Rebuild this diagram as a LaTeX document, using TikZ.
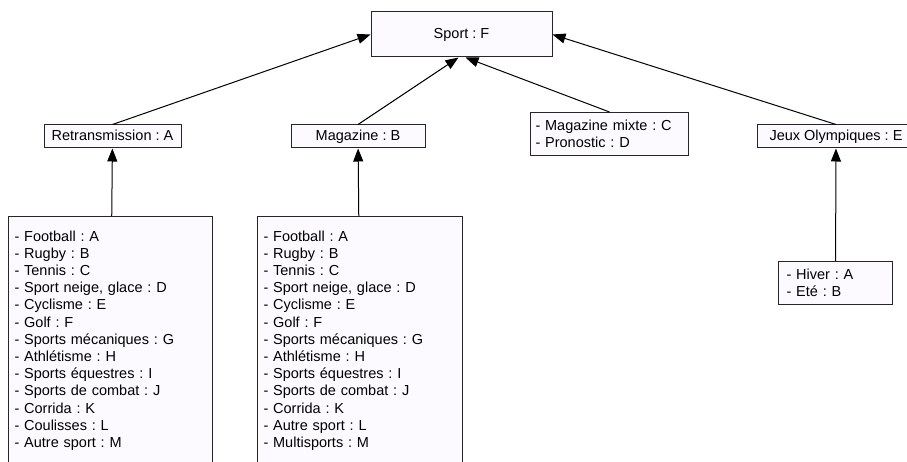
\documentclass[tikz,border=0pt]{standalone}
\usepackage{fontspec}
\setmainfont{Liberation Sans}
\frenchspacing
\usetikzlibrary{arrows.meta}
\definecolor{boxfill}{HTML}{FCFAFF}
\newcommand{\tailstrut}{\rule[-12pt]{0pt}{12pt}}
\tikzset{
  box/.style={draw=black!85, fill=boxfill, line width=1pt, minimum height=23pt,
    inner xsep=5pt, text height=10.4pt, text depth=3pt,
    font=\fontsize{14.5}{17.2}\selectfont},
  listbox/.style={box, anchor=north west, align=left, text height=, text depth=},
  arr/.style={-{Triangle[length=13pt,width=10pt]}, line width=1pt},
}
\begin{document}
\begin{tikzpicture}[x=1pt,y=-1pt]
  \useasboundingbox (0,0) rectangle (907,462);
  % top level
  \node[box,minimum width=181pt,minimum height=45pt] (sport) at (461.5,34.5) {Sport : F};
  % second level
  \node[box,minimum width=137pt] (retrans) at (112.5,136.5) {Retransmission : A};
  \node[box,minimum width=134pt] (mag) at (358,136.5) {Magazine : B};
  \node[listbox,text width=148pt,minimum height=43pt,inner ysep=4pt] (mixte) at (530,112)
    {- Magazine mixte : C\\- Pronostic : D};
  \node[box,minimum width=157pt] (jo) at (836,136.5) {Jeux Olympiques : E};
  % lists
  \node[listbox,text width=192pt,inner xsep=6pt,inner ysep=14pt] (retranslist) at (8,216)
    {- Football : A\\- Rugby : B\\- Tennis : C\\- Sport neige, glace : D\\- Cyclisme : E\\
     - Golf : F\\- Sports mécaniques : G\\- Athlétisme : H\\- Sports équestres : I\\
     - Sports de combat : J\\- Corrida : K\\- Coulisses : L\\- Autre sport : M\tailstrut};
  \node[listbox,text width=193pt,inner xsep=6pt,inner ysep=14pt] (maglist) at (257,216)
    {- Football : A\\- Rugby : B\\- Tennis : C\\- Sport neige, glace : D\\- Cyclisme : E\\
     - Golf : F\\- Sports mécaniques : G\\- Athlétisme : H\\- Sports équestres : I\\
     - Sports de combat : J\\- Corrida : K\\- Autre sport : L\\- Multisports : M\tailstrut};
  \node[listbox,text width=98pt,inner xsep=8pt,minimum height=43pt,inner ysep=4pt] (jolist) at (778,261)
    {- Hiver : A\\- Eté : B};
  % arrows
  \draw[arr] (retrans.north) -- (sport.west);
  \draw[arr] (mag.north) -- ([xshift=-3pt]sport.south);
  \draw[arr] (mixte.north) -- ([xshift=4pt]sport.south);
  \draw[arr] (jo.north) -- (sport.east);
  \draw[arr] (retranslist) -- (retrans);
  \draw[arr] (maglist) -- (mag);
  \draw[arr] (jolist) -- (jo);
\end{tikzpicture}
\end{document}
